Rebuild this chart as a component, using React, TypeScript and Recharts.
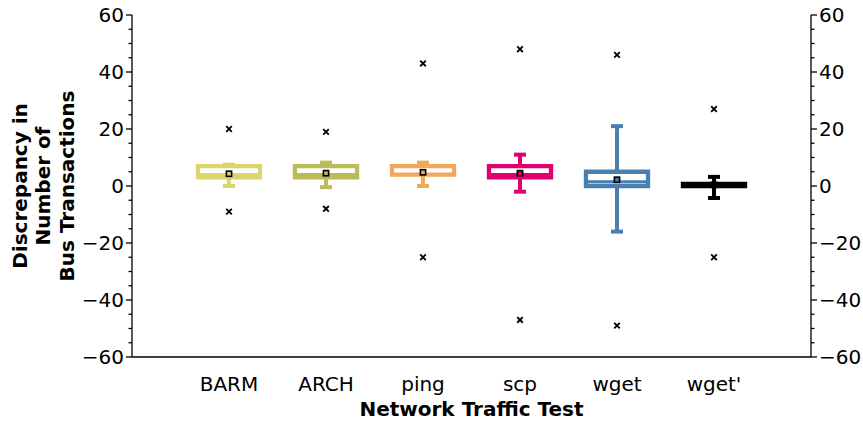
import React from 'react';
import { ComposedChart, XAxis, YAxis, ReferenceArea, ReferenceLine, Scatter } from 'recharts';

const categories = ['BARM', 'ARCH', 'ping', 'scp', 'wget', "wget'"];
const colors = ['#dcd46e', '#bcbb5a', '#efa958', '#e1006f', '#4a7fb1', '#000000'];
const whiskerLow = [0, -0.4, 0, -2, -16, -4.2];
const q1 = [3, 3, 4, 3, 0, 0];
const median = [4, 4, 4, 4, 1.5, 0.3];
const q3 = [7, 7, 7, 7, 5, 0.7];
const whiskerHigh = [7.5, 8.2, 8.2, 11, 21, 3.2];
const means = [4.3, 4.5, 4.8, 4.5, 2.2, 0.4];
const outliersHigh = [20, 19, 43, 48, 46, 27];
const outliersLow = [-9, -8, -25, -47, -49, -25];
const majorTicks = [-60, -40, -20, 0, 20, 40, 60];
const allTicks = [-60, -55, -50, -45, -40, -35, -30, -25, -20, -15, -10, -5, 0, 5, 10, 15, 20, 25, 30, 35, 40, 45, 50, 55, 60];
const xTicks = [1, 2, 3, 4, 5, 6];

const FONT = 'DejaVu Sans';
const BOX_HALF = 0.32;
const CAP_HALF = 0.062;

const fmt = (v: number) => (v < 0 ? '\u2212' + Math.abs(v) : String(v));

const LeftTick = (props: any) => {
  const { x, y, payload } = props;
  const v = payload.value;
  const major = majorTicks.includes(v);
  const len = major ? 6 : 3.5;
  return (
    <g>
      <line x1={x} y1={y} x2={x - len} y2={y} stroke="#000" strokeWidth={1.3} />
      {major && (
        <text x={x - 8} y={y} dy="0.36em" textAnchor="end" fontFamily={FONT} fontSize={20} fill="#000">
          {fmt(v)}
        </text>
      )}
    </g>
  );
};

const RightTick = (props: any) => {
  const { x, y, payload } = props;
  const v = payload.value;
  const major = majorTicks.includes(v);
  const len = major ? 6 : 3.5;
  return (
    <g>
      <line x1={x} y1={y} x2={x + len} y2={y} stroke="#000" strokeWidth={1.3} />
      {major && (
        <text x={x + 8} y={y} dy="0.36em" textAnchor="start" fontFamily={FONT} fontSize={20} fill="#000">
          {fmt(v)}
        </text>
      )}
    </g>
  );
};

const BottomTick = (props: any) => {
  const { x, y, payload } = props;
  return (
    <text x={x} y={y + 34} textAnchor="middle" fontFamily={FONT} fontSize={20} fill="#000">
      {categories[payload.value - 1]}
    </text>
  );
};

const YLabel = (props: any) => {
  const vb = props.viewBox || { x: 0, y: 15, width: 132, height: 342 };
  const cy = vb.y + vb.height / 2;
  const lines = ['Discrepancy in', 'Number of', 'Bus Transactions'];
  const xs = [27, 50, 74];
  return (
    <g>
      {lines.map((t, i) => (
        <text
          key={t}
          x={xs[i]}
          y={cy}
          transform={`rotate(-90 ${xs[i]} ${cy})`}
          textAnchor="middle"
          fontFamily={FONT}
          fontWeight="bold"
          fontSize={20}
          fill="#000"
        >
          {t}
        </text>
      ))}
    </g>
  );
};

const MeanShape = (props: any) => {
  const { cx, cy, payload } = props;
  return <rect x={cx - 2.6} y={cy - 2.6} width={5.2} height={5.2} fill={payload.color} stroke="#000" strokeWidth={1.6} />;
};

const OutlierShape = (props: any) => {
  const { cx, cy } = props;
  const s = 2.8;
  return (
    <g stroke="#000" strokeWidth={1.8}>
      <line x1={cx - s} y1={cy - s} x2={cx + s} y2={cy + s} />
      <line x1={cx - s} y1={cy + s} x2={cx + s} y2={cy - s} />
    </g>
  );
};

const EmptyShape = () => <g />;

const meanData = categories.map((c, i) => ({ x: i + 1, y: means[i], color: colors[i], name: c }));
const outlierData = categories.flatMap((c, i) => [
  { x: i + 1, y: outliersHigh[i], name: c },
  { x: i + 1, y: outliersLow[i], name: c },
]);

export default function App() {
  return (
    <div style={{ position: 'absolute', left: 0, top: 0 }}>
      <ComposedChart width={863} height={423} margin={{ top: 15, right: 0, bottom: 0, left: 0 }}>
        <XAxis
          xAxisId="x"
          type="number"
          dataKey="x"
          domain={[0, 7]}
          ticks={xTicks}
          tick={<BottomTick />}
          tickLine={false}
          tickSize={0}
          tickMargin={0}
          height={66}
          axisLine={{ stroke: '#000', strokeWidth: 1.3 }}
          label={{
            value: 'Network Traffic Test',
            position: 'insideBottom',
            offset: 7,
            style: { fontFamily: FONT, fontWeight: 'bold', fontSize: 20, fill: '#000' },
          }}
        />
        <YAxis
          yAxisId="left"
          type="number"
          orientation="left"
          domain={[-60, 60]}
          ticks={allTicks}
          interval={0}
          width={132}
          tick={<LeftTick />}
          tickLine={false}
          tickSize={0}
          tickMargin={0}
          axisLine={{ stroke: '#000', strokeWidth: 1.3 }}
          label={<YLabel />}
        />
        <YAxis
          yAxisId="right"
          type="number"
          orientation="right"
          domain={[-60, 60]}
          ticks={allTicks}
          interval={0}
          width={52}
          tick={<RightTick />}
          tickLine={false}
          tickSize={0}
          tickMargin={0}
          axisLine={{ stroke: '#000', strokeWidth: 1.3 }}
        />
        <Scatter xAxisId="x" yAxisId="right" data={outlierData} dataKey="y" shape={<EmptyShape />} isAnimationActive={false} />
        {categories.map((c, i) => (
          <ReferenceLine
            key={'wl' + c}
            xAxisId="x"
            yAxisId="left"
            segment={[{ x: i + 1, y: q1[i] }, { x: i + 1, y: whiskerLow[i] }]}
            stroke={colors[i]}
            strokeWidth={4}
          />
        ))}
        {categories.map((c, i) => (
          <ReferenceLine
            key={'wh' + c}
            xAxisId="x"
            yAxisId="left"
            segment={[{ x: i + 1, y: q3[i] }, { x: i + 1, y: whiskerHigh[i] }]}
            stroke={colors[i]}
            strokeWidth={4}
          />
        ))}
        {categories.map((c, i) => (
          <ReferenceLine
            key={'cl' + c}
            xAxisId="x"
            yAxisId="left"
            segment={[{ x: i + 1 - CAP_HALF, y: whiskerLow[i] }, { x: i + 1 + CAP_HALF, y: whiskerLow[i] }]}
            stroke={colors[i]}
            strokeWidth={4}
          />
        ))}
        {categories.map((c, i) => (
          <ReferenceLine
            key={'ch' + c}
            xAxisId="x"
            yAxisId="left"
            segment={[{ x: i + 1 - CAP_HALF, y: whiskerHigh[i] }, { x: i + 1 + CAP_HALF, y: whiskerHigh[i] }]}
            stroke={colors[i]}
            strokeWidth={4}
          />
        ))}
        {categories.map((c, i) => (
          <ReferenceArea
            key={'box' + c}
            xAxisId="x"
            yAxisId="left"
            x1={i + 1 - BOX_HALF}
            x2={i + 1 + BOX_HALF}
            y1={q1[i]}
            y2={q3[i]}
            fill="#ffffff"
            fillOpacity={1}
            stroke={colors[i]}
            strokeWidth={4.3}
            strokeOpacity={1}
          />
        ))}
        {categories.map((c, i) => (
          <ReferenceLine
            key={'med' + c}
            xAxisId="x"
            yAxisId="left"
            segment={[{ x: i + 1 - BOX_HALF, y: median[i] }, { x: i + 1 + BOX_HALF, y: median[i] }]}
            stroke={colors[i]}
            strokeWidth={3}
          />
        ))}
        <Scatter xAxisId="x" yAxisId="left" data={outlierData} dataKey="y" shape={<OutlierShape />} isAnimationActive={false} />
        <Scatter xAxisId="x" yAxisId="left" data={meanData} dataKey="y" shape={<MeanShape />} isAnimationActive={false} />
      </ComposedChart>
    </div>
  );
}
